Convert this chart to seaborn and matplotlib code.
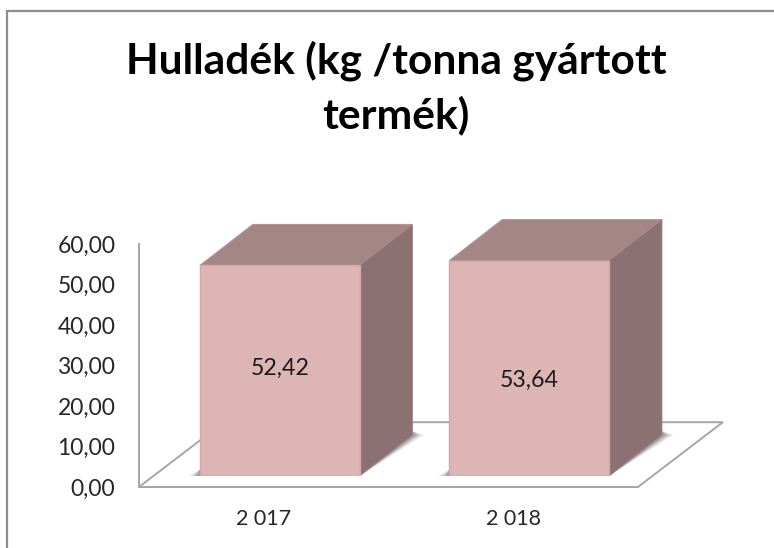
import pandas as pd
import matplotlib
matplotlib.use("Agg")
import matplotlib.pyplot as plt
from matplotlib.lines import Line2D
from matplotlib.patches import Polygon
import seaborn as sns

years = ["2 017", "2 018"]
waste = [52.42, 53.64]
value_labels = ["52,42", "53,64"]
y_ticks = [0, 10, 20, 30, 40, 50, 60]
y_tick_labels = ["0,00", "10,00", "20,00", "30,00", "40,00", "50,00", "60,00"]
title = "Hulladék (kg /tonna gyártott\ntermék)"

W, H = 774, 548
FRONT, TOP, SIDE = "#DDB5B5", "#A58686", "#8B7171"
GRID = "#A6A6A6"
# depth of the 3d look, in category / value units
BAR_DX, BAR_DY = 0.212, 10.2
FLOOR_DX, FLOOR_DY = 0.34, 16.0


def px_axes(fig, left, top, right, bottom):
    return fig.add_axes([left / W, 1 - bottom / H, (right - left) / W, (bottom - top) / H])


sns.set_style("white")
plt.rcParams["font.family"] = ["Lato", "DejaVu Sans"]

fig = plt.figure(figsize=(W / 100, H / 100), dpi=100)
fig.add_artist(Line2D([7 / W, 7 / W], [0, 1 - 11 / H], color="#8C8C8C", lw=1.6))
fig.add_artist(Line2D([7 / W, 1], [1 - 11 / H, 1 - 11 / H], color="#8C8C8C", lw=1.6))
fig.text(396 / W, 1 - 88 / H, title, ha="center", va="center", fontsize=30.6,
         fontweight="bold", color="black", linespacing=1.43)

# wall and floor, these carry the axis labels
wall = px_axes(fig, 139, 244, 638, 487)
wall.set_xlim(-0.5, 1.5)
wall.set_ylim(0, 60)
wall.patch.set_alpha(0)
for s in ["top", "right"]:
    wall.spines[s].set_visible(False)
for s in ["left", "bottom"]:
    wall.spines[s].set_color(GRID)
    wall.spines[s].set_linewidth(1.4)
wall.set_yticks(y_ticks)
wall.set_yticklabels(y_tick_labels, fontsize=16.5, color="#262626")
wall.set_xticks([0, 1])
wall.set_xticklabels(years, fontsize=15.5, color="#262626")
wall.tick_params(axis="y", length=0, pad=17)
wall.tick_params(axis="x", length=0, pad=16)
floor = Polygon([(-0.5, 0), (1.5, 0), (1.5 + FLOOR_DX, FLOOR_DY), (-0.5 + FLOOR_DX, FLOOR_DY)],
                closed=True, facecolor="white", edgecolor=GRID, lw=1.4, clip_on=False)
wall.add_patch(floor)

# bars sit a little inside the floor
ax = px_axes(fig, 155, 235, 654, 476)
ax.patch.set_alpha(0)
df = pd.DataFrame({"year": years, "waste": waste})
sns.barplot(data=df, x="year", y="waste", color=FRONT, saturation=1, width=0.64,
            edgecolor="#D2A8A8", linewidth=1, ax=ax, zorder=5)
ax.set_xlim(-0.5, 1.5)
ax.set_ylim(0, 60)
ax.axis("off")

label_heights = [26.8, 23.8]
for bar, text, y in zip(ax.patches, value_labels, label_heights):
    x0, w, h = bar.get_x(), bar.get_width(), bar.get_height()
    x1 = x0 + w
    # soft shadow of the footprint on the floor
    for grow, alpha in [(0.045, 0.12), (0.03, 0.2), (0.015, 0.28)]:
        ax.add_patch(Polygon([(x0 - grow, 0), (x1, 0), (x1 + BAR_DX + grow, BAR_DY),
                              (x1 + BAR_DX, BAR_DY + 1), (x0, 1.6)], closed=True,
                             facecolor="#404040", edgecolor="none", alpha=alpha,
                             clip_on=False, zorder=2))
    ax.add_patch(Polygon([(x0, h), (x1, h), (x1 + BAR_DX, h + BAR_DY), (x0 + BAR_DX, h + BAR_DY)],
                         closed=True, facecolor=TOP, edgecolor="#B59595", lw=0.8,
                         clip_on=False, zorder=4))
    ax.add_patch(Polygon([(x1, 0), (x1 + BAR_DX, BAR_DY), (x1 + BAR_DX, h + BAR_DY), (x1, h)],
                         closed=True, facecolor=SIDE, edgecolor="#A08686", lw=0.6,
                         clip_on=False, zorder=4))
    ax.text(x0 + w / 2, y, text, ha="center", va="center", fontsize=16.7,
            color="#1A1A1A", zorder=6)

fig.savefig("out.png", dpi=100, facecolor="white")
